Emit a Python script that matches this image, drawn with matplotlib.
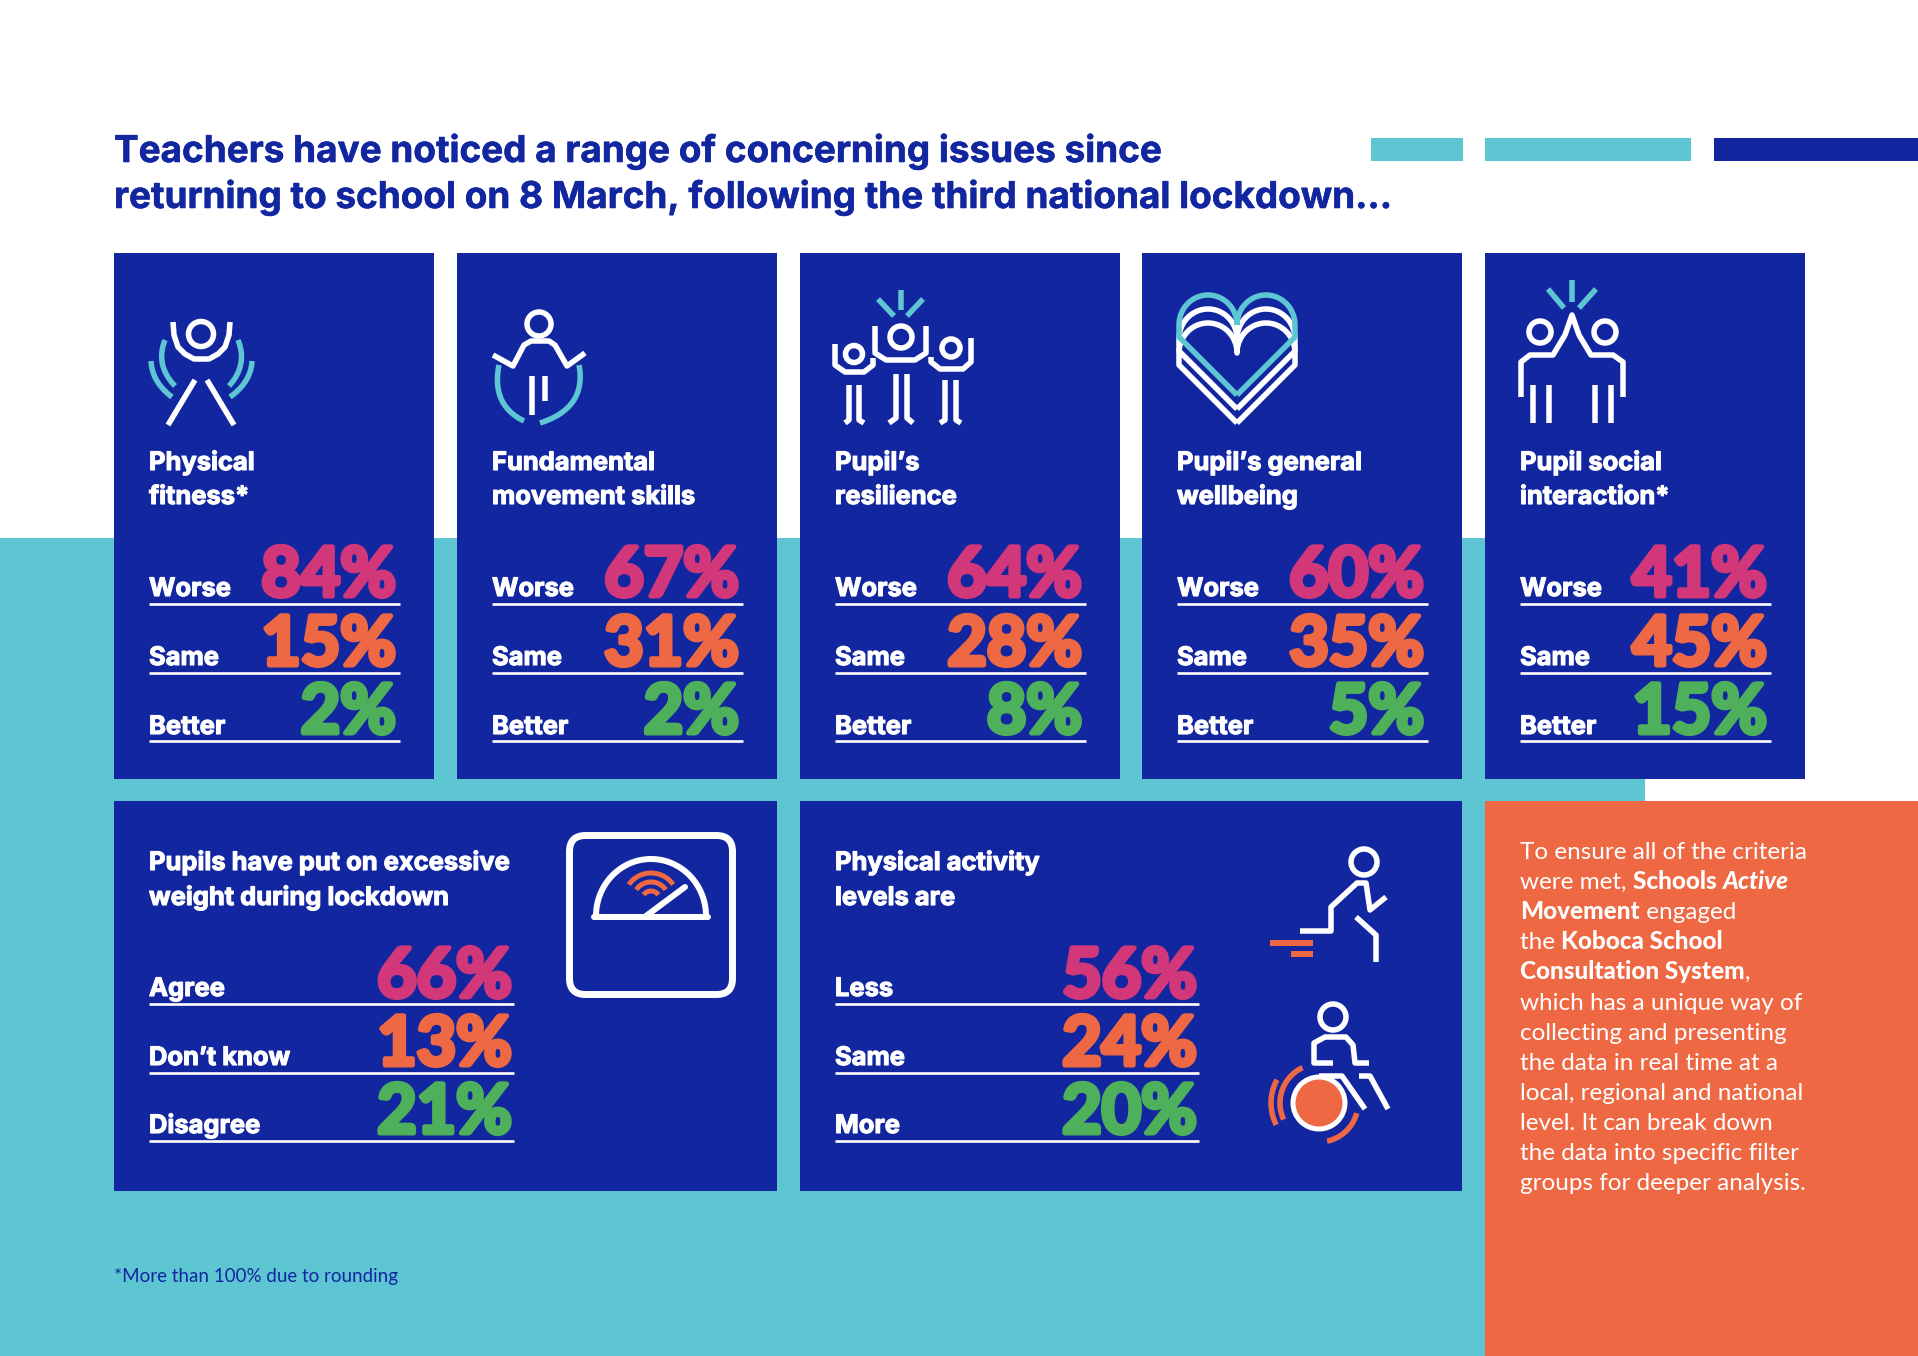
import numpy as np
import matplotlib
matplotlib.use("Agg")
import matplotlib.pyplot as plt
import matplotlib.patheffects as pe
from matplotlib.patches import Rectangle, FancyBboxPatch, Ellipse

# ----------------------------
# Data
# ----------------------------

title_lines = [
    "Teachers have noticed a range of concerning issues since",
    "returning to school on 8 March, following the third national lockdown...",
]

card_titles = [
    ["Physical", "fitness*"],
    ["Fundamental", "movement skills"],
    ["Pupil\u2019s", "resilience"],
    ["Pupil\u2019s general", "wellbeing"],
    ["Pupil social", "interaction*"],
]
row_labels = ["Worse", "Same", "Better"]
worse = [84, 67, 64, 60, 41]
same = [15, 31, 28, 35, 45]
better = [2, 2, 8, 5, 15]

weight_title = ["Pupils have put on excessive", "weight during lockdown"]
weight_labels = ["Agree", "Don\u2019t know", "Disagree"]
weight_values = [66, 13, 21]

activity_title = ["Physical activity", "levels are"]
activity_labels = ["Less", "Same", "More"]
activity_values = [56, 24, 20]

footnote = "*More than 100% due to rounding"

# each line is a list of (text, style) runs
side_text = [
    [("To ensure all of the criteria", "r")],
    [("were met, ", "r"), ("Schools ", "b"), ("Active", "bi")],
    [("Movement", "b"), (" engaged", "r")],
    [("the ", "r"), ("Koboca School", "b")],
    [("Consultation System", "b"), (",", "r")],
    [("which has a unique way of", "r")],
    [("collecting and presenting", "r")],
    [("the data in real time at a", "r")],
    [("local, regional and national", "r")],
    [("level. It can break down", "r")],
    [("the data into specific filter", "r")],
    [("groups for deeper analysis.", "r")],
]

NAVY = "#1226a0"
TEAL = "#5ec5d2"
ORANGE = "#ee6844"
PINK = "#d2377a"
GREEN = "#4fb05b"
WHITE = "#ffffff"
row_colors = [PINK, ORANGE, GREEN]

plt.rcParams["font.family"] = ["Lato", "DejaVu Sans"]
HEAVY = ["Inter", "Lato", "DejaVu Sans"]

# ----------------------------
# Canvas, one unit is one pixel
# ----------------------------

W, H = 1918, 1356
fig = plt.figure(figsize=(W / 100, H / 100), dpi=100)
ax = fig.add_axes([0, 0, 1, 1])
ax.set_xlim(0, W)
ax.set_ylim(H, 0)
ax.axis("off")


def box(x0, y0, x1, y1, color, z=1):
    ax.add_patch(Rectangle((x0, y0), x1 - x0, y1 - y0, fc=color, ec="none", zorder=z))


def stroke(pts, color=WHITE, lw=5.5, cap="butt"):
    pts = np.array(pts, dtype=float)
    ax.plot(pts[:, 0], pts[:, 1], color=color, lw=lw * 0.72,
            solid_capstyle=cap, solid_joinstyle="round", zorder=5)


def curve(p0, p1, p2, color=TEAL, lw=5.5):
    t = np.linspace(0, 1, 40)[:, None]
    p0, p1, p2 = np.array(p0), np.array(p1), np.array(p2)
    stroke((1 - t) ** 2 * p0 + 2 * t * (1 - t) * p1 + t ** 2 * p2, color, lw)


def arc(cx, cy, r, a0, a1, color=ORANGE, lw=5.5, ry=None):
    a = np.radians(np.linspace(a0, a1, 60))
    ry = r if ry is None else ry
    stroke(np.c_[cx + r * np.cos(a), cy + ry * np.sin(a)], color, lw)


def ring(cx, cy, r, color=WHITE, lw=5.5):
    ax.add_patch(Ellipse((cx, cy), 2 * r, 2 * r, fc="none", ec=color, lw=lw * 0.72, zorder=5))


def px(size):
    return size * 0.72


def heavy_text(x, y, text, color, size, grow, ha="left", family=HEAVY):
    # the artwork's display face is heavier than anything installed, so fatten it
    t = ax.text(x, y, text, color=color, fontsize=px(size), fontweight="bold",
                family=family, ha=ha, va="baseline", zorder=4)
    t.set_path_effects([pe.withStroke(linewidth=grow, foreground=color)])
    return t


# ----------------------------
# Background
# ----------------------------

box(0, 538, 1645, H, TEAL, 0)
box(1485, 801, W, H, ORANGE, 1)

box(1371, 138, 1463, 161, TEAL)
box(1485, 138, 1691, 161, TEAL)
box(1714, 138, W, 161, NAVY)

for line, y in zip(title_lines, [162, 208]):
    heavy_text(114, y, line, NAVY, 36.9, 0.4)

ax.text(114, 1282, footnote, color=NAVY, fontsize=px(18.8), va="baseline")


# ----------------------------
# Rows of label + big percent
# ----------------------------

def rows(labels, values, x_left, x_right, line_ys, value_ys, label_ys, inset=4):
    for i, (label, value) in enumerate(zip(labels, values)):
        ax.plot([x_left, x_right], [line_ys[i]] * 2, color=WHITE, lw=1.9,
                solid_capstyle="butt", zorder=4)
        heavy_text(x_left, label_ys[i], label, WHITE, 25.5, 0.8)
        heavy_text(x_right - inset, value_ys[i], f"{value}%", row_colors[i], 68, 3.6,
                   ha="right", family=["Lato", "DejaVu Sans"])


card_left = [114, 457, 800, 1142, 1485]
for i, x0 in enumerate(card_left):
    box(x0, 253, x0 + 320, 779, NAVY)
    for line, y in zip(card_titles[i], [470, 504]):
        heavy_text(x0 + 35, y, line, WHITE, 25.5, 0.8)
    rows(row_labels, [worse[i], same[i], better[i]], x0 + 35, x0 + 286,
         [604, 673, 741], [596, 665, 733], [596, 665, 734])

box(114, 801, 777, 1191, NAVY)
box(800, 801, 1462, 1191, NAVY)
for x0, lines in [(149, weight_title), (835, activity_title)]:
    for line, y in zip(lines, [870, 905]):
        heavy_text(x0, y, line, WHITE, 25.5, 0.8)
rows(weight_labels, weight_values, 149, 514, [1004, 1073, 1141], [997, 1065, 1133], [996, 1065, 1133], inset=2)
rows(activity_labels, activity_values, 835, 1199, [1004, 1073, 1141], [997, 1065, 1133], [996, 1065, 1133], inset=2)


# ----------------------------
# Side text, bold runs placed one after another
# ----------------------------

run_style = {
    "r": dict(fontweight="normal"),
    "b": dict(fontweight=900),
    "bi": dict(fontweight=900, fontstyle="italic"),
}
renderer = fig.canvas.get_renderer()
for i, runs in enumerate(side_text):
    x = 1520
    y = 859 + i * 30.1
    for text, style in runs:
        t = ax.text(x, y, text, color=WHITE, fontsize=px(24.2), va="baseline",
                    zorder=4, **run_style[style])
        # keep trailing spaces in the measure
        probe = ax.text(0, 0, text.replace(" ", "\u00a0"), fontsize=px(24.2), **run_style[style])
        x += probe.get_window_extent(renderer).width
        probe.remove()


# ----------------------------
# Icons
# ----------------------------

# physical fitness
ring(201, 334, 12.5)
stroke([(173, 322), (174, 335), (178, 347), (185, 354), (194, 359), (209, 359),
        (218, 354), (225, 347), (229, 335), (230, 322)])
stroke([(195, 380), (168, 425)])
stroke([(207, 380), (234, 425)])
curve((165, 340), (155, 365), (175, 386))
curve((151, 361), (152, 382), (172, 397))
curve((238, 340), (248, 365), (229, 386))
curve((252, 361), (251, 382), (230, 397))

# movement skills
ring(539, 324, 12)
stroke([(493, 355), (513, 366), (524, 345), (531, 341), (549, 341), (555, 345),
        (567, 366), (585, 353)])
stroke([(532, 376), (532, 415)])
stroke([(545, 376), (545, 401)])
curve((499, 365), (491, 405), (524, 421))
curve((579, 365), (587, 408), (540, 423))

# resilience
ring(901, 337, 11)
stroke([(875, 326), (875, 353), (886, 360), (915, 360), (926, 353), (926, 326)])
stroke([(896, 374), (896, 418), (889, 423)])
stroke([(907, 374), (907, 418), (913, 423)])
ring(854, 354, 8.5)
stroke([(835, 344), (835, 365), (845, 372), (864, 372), (873, 365), (873, 358)])
stroke([(849, 385), (849, 420), (845, 423)])
stroke([(859, 385), (859, 420), (864, 423)])
ring(951, 348, 9)
stroke([(931, 357), (931, 362), (940, 369), (963, 369), (971, 362), (971, 338)])
stroke([(945, 380), (945, 420), (940, 423)])
stroke([(956, 380), (956, 420), (961, 423)])
stroke([(901, 290), (901, 310)], TEAL)
stroke([(878, 299), (894, 316)], TEAL)
stroke([(923, 299), (907, 316)], TEAL)

# wellbeing, three stacked hearts
for shift, color in [(28, WHITE), (14, WHITE), (0, TEAL)]:
    a = np.radians(np.linspace(180, 360, 50))
    left = np.c_[1208 + 29 * np.cos(a), 325 + shift + 30 * np.sin(a)]
    right = np.c_[1266 + 29 * np.cos(a), 325 + shift + 30 * np.sin(a)]
    outline = np.vstack([[(1237, 395 + shift), (1179, 337 + shift)], left, right,
                         [(1295, 337 + shift), (1237, 395 + shift)]])
    stroke(outline, color)
stroke([(1237, 325), (1237, 352)])

# social interaction
ring(1540, 332, 11)
ring(1605, 332, 11)
stroke([(1521, 397), (1521, 362), (1530, 355), (1553, 355), (1565, 335), (1572, 315),
        (1579, 335), (1591, 355), (1613, 355), (1623, 362), (1623, 397)])
for x in [1533, 1549, 1595, 1611]:
    stroke([(x, 385), (x, 423)])
stroke([(1572, 280), (1572, 302)], TEAL)
stroke([(1548, 289), (1564, 308)], TEAL)
stroke([(1596, 289), (1579, 308)], TEAL)

# weighing scale
ax.add_patch(FancyBboxPatch((569.5, 835.5), 163, 159, boxstyle="round,pad=0,rounding_size=16",
                            fc="none", ec=WHITE, lw=5, zorder=5))
arc(651, 916, 55, 180, 360, WHITE, 6, ry=57)
stroke([(594, 917), (708, 917)], WHITE, 6, cap="round")
stroke([(646, 916), (685, 887)], WHITE, 6, cap="round")
arc(651, 900, 27, 215, 325, ORANGE, 5)
arc(651, 900, 18, 215, 325, ORANGE, 5)
arc(651, 900, 9, 215, 325, ORANGE, 5)

# stairs runner
ring(1364, 862, 13)
stroke([(1300, 931), (1331, 931), (1331, 907), (1357, 883), (1366, 883), (1370, 910), (1386, 897)])
stroke([(1356, 917), (1376, 935), (1376, 962)])
box(1270, 940, 1313, 946, ORANGE, 5)
box(1291, 951, 1313, 957, ORANGE, 5)

# wheelchair
ring(1333, 1017, 13)
stroke([(1333, 1063), (1314, 1063), (1314, 1043), (1325, 1037), (1346, 1037),
        (1353, 1045), (1355, 1063), (1369, 1063)])
ax.add_patch(Ellipse((1319, 1103), 52, 52, fc=ORANGE, ec=WHITE, lw=3.6, zorder=5))
stroke([(1319, 1076), (1342, 1076), (1365, 1109)])
stroke([(1359, 1076), (1370, 1076), (1388, 1109)])
arc(1319, 1103, 48, 153, 209)
arc(1319, 1103, 39, 155, 245)
arc(1319, 1103, 39, 15, 78)

fig.savefig("out.png", dpi=100, facecolor="white")
